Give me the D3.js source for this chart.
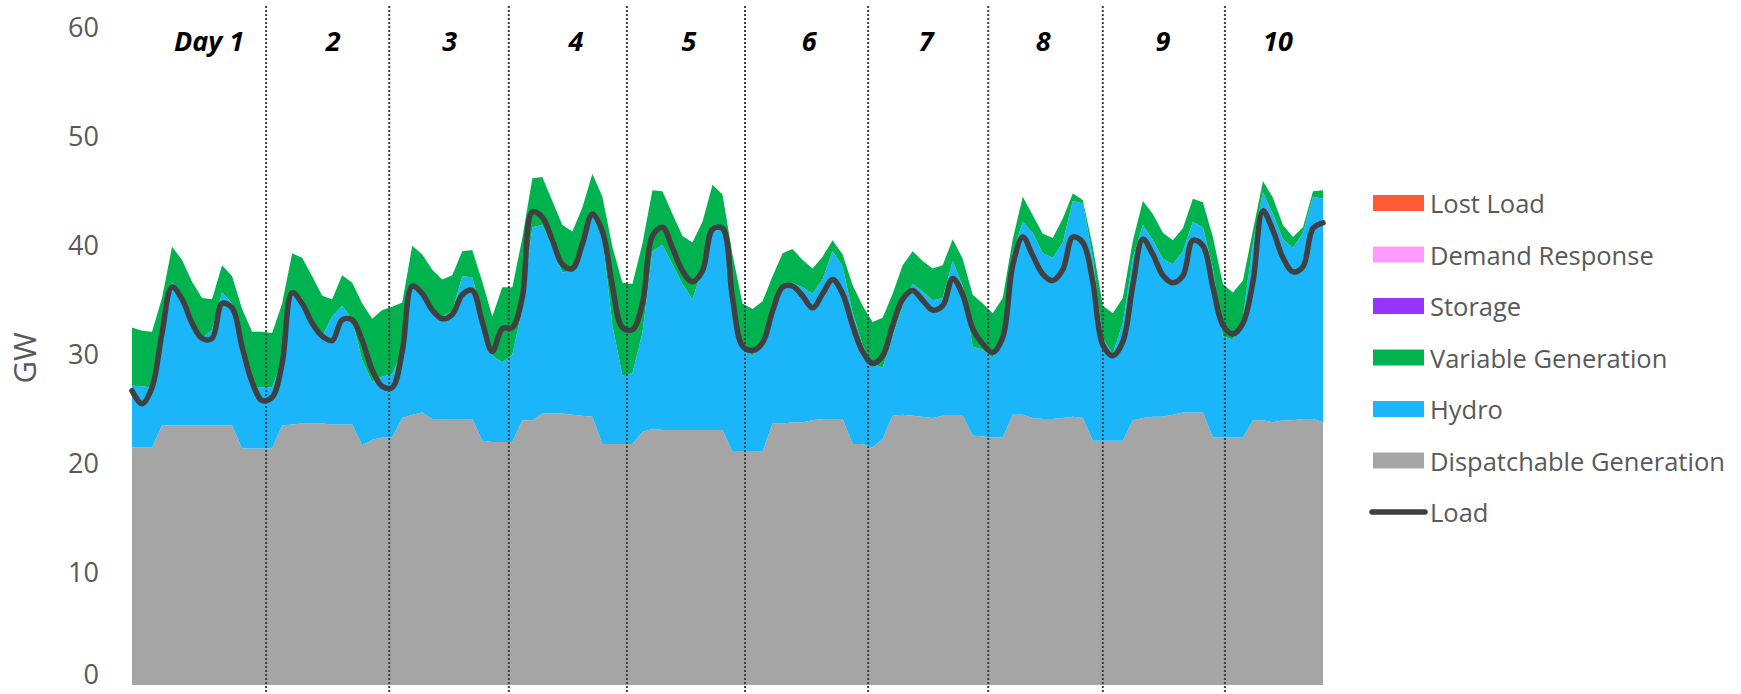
<!DOCTYPE html>
<html>
<head>
<meta charset="utf-8">
<script src="https://cdn.jsdelivr.net/npm/d3@7"></script>
<style>
  html, body { margin: 0; padding: 0; background: #fff; }
  svg { display: block; }
</style>
</head>
<body>
<div id="chart"></div>
<script>
// ---------------- DATA ----------------
// hourly index (every 2 hours) over the 10-day period
const hours = d3.range(0, 240, 2);

const dispatchable = [
  21.8,21.8,21.8,23.8,23.8,23.8,23.8,23.8,23.8,23.8,
  23.8,21.7,21.7,21.7,21.7,23.8,23.9,24.0,24.0,24.0,
  23.9,23.9,23.9,22.0,22.5,22.7,22.7,24.5,24.8,25.0,
  24.4,24.4,24.4,24.4,24.4,22.4,22.3,22.3,22.3,24.3,
  24.3,24.9,24.9,24.9,24.8,24.7,24.6,22.1,22.1,22.1,
  22.1,23.2,23.5,23.4,23.4,23.4,23.4,23.4,23.4,23.4,
  21.4,21.4,21.4,21.4,24.0,24.0,24.1,24.1,24.3,24.4,
  24.4,24.4,22.1,22.1,21.8,22.6,24.7,24.8,24.7,24.6,
  24.5,24.7,24.7,24.7,22.9,22.8,22.7,22.7,24.8,24.8,
  24.5,24.4,24.4,24.5,24.6,24.5,22.4,22.4,22.4,22.4,
  24.3,24.5,24.6,24.6,24.8,25.0,25.0,25.0,22.7,22.7,
  22.7,22.7,24.3,24.3,24.1,24.3,24.3,24.4,24.4,24.1
];

const hydro = [
  5.65,5.6,5.5,7.2,13.1,12.0,9.3,8.0,8.8,12.2,
  11.2,8.3,5.7,5.6,5.6,6.0,12.4,11.5,9.6,8.0,
  9.9,10.9,9.6,7.8,5.3,5.6,5.8,6.1,11.5,11.0,
  10.1,9.4,9.9,13.1,13.0,11.6,7.9,7.3,8.0,10.2,
  17.7,17.3,15.3,12.95,13.2,16.3,18.4,19.1,10.9,6.3,
  6.5,9.1,16.3,17.0,15.2,13.4,12.0,14.8,18.1,18.6,
  14.6,9.6,8.8,10.1,10.5,12.5,12.8,12.4,11.6,12.8,
  15.4,14.0,12.1,9.1,7.7,6.5,7.3,10.0,12.1,11.5,
  10.8,10.8,14.2,11.9,8.1,8.0,7.3,9.9,14.8,17.7,
  17.0,15.2,14.8,16.1,19.8,19.7,16.8,9.4,8.0,10.8,
  14.9,17.7,16.2,14.5,13.8,14.8,17.5,17.0,15.5,9.3,
  9.0,11.1,16.2,20.9,19.1,16.6,15.8,17.1,20.4,20.5
];

const variableGen = [
  5.35,5.1,5.1,4.5,3.3,3.2,3.9,3.7,2.8,2.5,
  2.5,4.5,5.0,5.1,5.0,5.2,3.3,3.7,3.9,3.7,
  1.6,2.8,3.4,5.2,5.8,6.1,6.2,4.5,4.0,3.5,
  3.6,3.4,3.3,2.3,2.5,3.0,3.6,6.9,6.2,6.5,
  4.5,4.4,4.2,4.35,3.6,2.8,3.9,3.6,7.2,8.5,
  8.2,8.2,5.6,4.9,4.6,4.4,5.2,4.3,4.4,3.0,
  3.5,4.0,4.3,3.7,3.0,3.1,3.1,2.5,2.3,2.1,
  1.0,1.1,2.5,3.6,3.8,4.6,3.9,3.7,3.0,2.8,
  2.9,3.0,2.0,2.5,4.8,4.2,4.1,2.9,1.3,2.3,
  1.6,1.8,1.8,2.2,0.7,0.3,1.0,3.0,3.7,2.3,
  1.55,2.2,2.4,2.4,2.2,2.1,2.1,2.3,2.9,4.8,
  4.3,3.3,1.2,1.05,1.5,1.3,1.0,0.5,0.5,0.8
];

const load = [
  27.0,25.8,27.3,32.3,36.5,35.4,33.2,31.8,31.8,35.0,
  34.6,31.0,27.8,26.1,26.4,29.5,36.0,35.0,33.2,32.0,
  31.6,33.5,33.5,31.6,28.9,27.4,27.3,30.6,36.6,35.9,
  34.4,33.6,34.0,35.8,36.2,33.3,30.6,32.7,32.8,35.6,
  43.4,42.9,40.8,38.6,38.2,40.45,43.2,41.6,36.6,32.8,
  32.6,35.0,41.2,42.0,40.1,38.0,37.0,38.0,41.8,41.9,
  35.5,31.1,30.7,31.4,34.3,36.5,36.6,35.7,34.6,35.9,
  37.2,35.9,33.0,30.6,29.5,30.2,33.0,35.4,36.2,35.3,
  34.4,34.8,37.3,35.8,32.7,31.3,30.5,31.9,38.5,41.1,
  39.4,37.7,37.1,38.1,41.1,40.6,37.0,31.2,30.2,31.5,
  36.7,40.9,39.5,37.6,36.9,37.55,40.8,40.3,36.5,33.0,
  32.2,33.2,37.0,43.5,41.7,39.2,37.9,38.4,41.9,42.4
];

// day separators and day label positions (in hours)
const daySeparators = [26.8, 51.4, 75.3, 98.9, 122.5, 147.1, 171.1, 194.0, 218.4];
const dayLabels = ["Day 1", "2", "3", "4", "5", "6", "7", "8", "9", "10"];
const dayLabelHours = [15.4, 40.2, 63.5, 88.7, 111.3, 135.3, 158.7, 182.1, 206.0, 229.0];

const yTicks = [0, 10, 20, 30, 40, 50, 60];

const legendNames = ["Lost Load", "Demand Response", "Storage", "Variable Generation", "Hydro", "Dispatchable Generation", "Load"];

// ---------------- STYLE ----------------
const colors = {
  "Lost Load": "#FF5A36",
  "Demand Response": "#FF9BFF",
  "Storage": "#9933FF",
  "Variable Generation": "#00B34F",
  "Hydro": "#1AB6F9",
  "Dispatchable Generation": "#A5A5A5",
  "Load": "#404040"
};
const FONT = "'Open Sans', 'Noto Sans', sans-serif";

const W = 1741, H = 694;
const svg = d3.select("#chart").append("svg").attr("width", W).attr("height", H);

const x = d3.scaleLinear().domain([0, 238]).range([132, 1323]);
const y = d3.scaleLinear().domain([0, 60]).range([685, 31]);

// stacked table
const table = hours.map((h, i) => ({
  hour: h,
  "Dispatchable Generation": dispatchable[i],
  "Hydro": hydro[i],
  "Variable Generation": variableGen[i]
}));
const keys = ["Dispatchable Generation", "Hydro", "Variable Generation"];
const stacked = d3.stack().keys(keys)(table);

const area = d3.area()
  .x(d => x(d.data.hour))
  .y0(d => y(d[0]))
  .y1(d => y(d[1]))
  .curve(d3.curveLinear);

svg.append("g").selectAll("path")
  .data(stacked)
  .join("path")
  .attr("d", area)
  .attr("fill", d => colors[d.key]);

// day separators
svg.append("g").selectAll("line")
  .data(daySeparators)
  .join("line")
  .attr("x1", d => x(d)).attr("x2", d => x(d))
  .attr("y1", 6).attr("y2", H)
  .attr("stroke", "#404040")
  .attr("stroke-width", 2)
  .attr("stroke-dasharray", "2,2");

// load line
const line = d3.line()
  .x((d, i) => x(hours[i]))
  .y(d => y(d))
  .curve(d3.curveCatmullRom.alpha(0.5));

svg.append("path")
  .datum(load)
  .attr("d", line)
  .attr("fill", "none")
  .attr("stroke", colors["Load"])
  .attr("stroke-width", 5.5)
  .attr("stroke-linejoin", "round")
  .attr("stroke-linecap", "round");

// y axis
const yAxis = d3.axisLeft(y).tickValues(yTicks).tickSize(0).tickPadding(33);
const gy = svg.append("g").attr("transform", "translate(132,0)").call(yAxis);
gy.select(".domain").remove();
gy.selectAll("text")
  .attr("dy", d => d === 0 ? "-0.05em" : "0.22em")
  .attr("font-family", FONT)
  .attr("font-size", 27)
  .attr("fill", "#595959");

// y axis title
svg.append("text")
  .attr("transform", "translate(36,358) rotate(-90)")
  .attr("text-anchor", "middle")
  .attr("font-family", FONT)
  .attr("font-size", 31)
  .attr("fill", "#595959")
  .text("GW");

// day labels
svg.append("g").selectAll("text")
  .data(dayLabels)
  .join("text")
  .attr("x", (d, i) => x(dayLabelHours[i]))
  .attr("y", 51)
  .attr("text-anchor", "middle")
  .attr("font-family", FONT)
  .attr("font-size", 27)
  .attr("font-weight", "bold")
  .attr("font-style", "italic")
  .attr("fill", "#000")
  .text(d => d);

// legend
const legendY0 = 203, legendStep = 51.5;
const lg = svg.append("g");
legendNames.forEach((name, i) => {
  const cy = legendY0 + i * legendStep;
  if (name === "Load") {
    lg.append("line")
      .attr("x1", 1372).attr("x2", 1425)
      .attr("y1", cy).attr("y2", cy)
      .attr("stroke", colors[name])
      .attr("stroke-width", 5.5)
      .attr("stroke-linecap", "round");
  } else {
    lg.append("rect")
      .attr("x", 1373).attr("y", cy - 8)
      .attr("width", 51).attr("height", 16)
      .attr("fill", colors[name]);
  }
  lg.append("text")
    .attr("x", 1430).attr("y", cy)
    .attr("dominant-baseline", "central")
    .attr("font-family", FONT)
    .attr("font-size", 25.5)
    .attr("fill", "#595959")
    .text(name);
});
</script>
</body>
</html>
